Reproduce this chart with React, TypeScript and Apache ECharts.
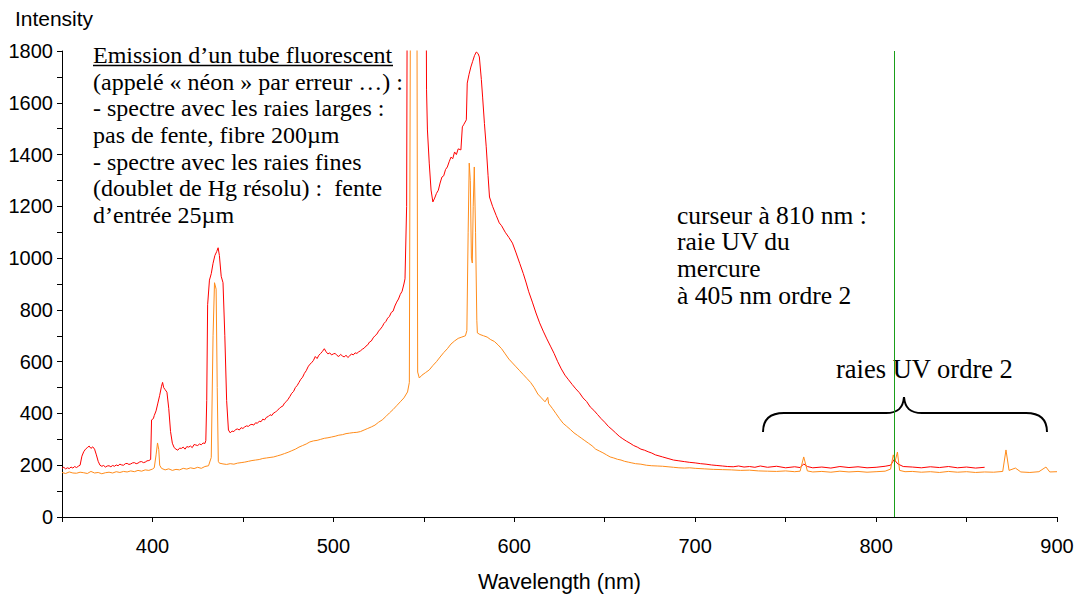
import React, { useEffect, useRef } from "react";
import * as echarts from "echarts";

// Wavelength (nm) / intensity pairs
const redSpectrum: [number, number][] = [
  [350, 188], [351, 192], [352, 186], [353, 190], [354, 187], [355, 193], [356, 189], [357, 195], [358, 191], [359, 196],
  [360, 200], [361, 235], [362, 252], [363, 262], [364, 268], [365, 274], [366, 265], [367, 271], [368, 262], [369, 240],
  [370, 215], [371, 200], [372, 196], [373, 199], [374, 193], [375, 197], [376, 198], [377, 194], [378, 199], [379, 196],
  [380, 201], [381, 198], [382, 204], [383, 201], [384, 200], [385, 206], [386, 207], [387, 203], [388, 205], [389, 209],
  [390, 210], [391, 206], [392, 208], [393, 213], [394, 214], [395, 210], [396, 212], [397, 217], [398, 218], [399, 222],
  [399.5, 375], [400.5, 380], [401, 392], [402, 410], [403, 440], [404, 470], [405, 505], [405.6, 520], [406.2, 500], [407, 492],
  [408, 482], [409, 420], [410, 330], [411, 285], [412, 268], [413, 262], [414, 258], [415, 266], [416, 265], [417, 270],
  [418, 262], [419, 272], [420, 270], [421, 274], [422, 268], [423, 280], [424, 278], [425, 276], [426, 282], [427, 279],
  [428, 286], [429, 284], [429.5, 295], [430, 450], [430.5, 820], [431.5, 915], [432.5, 940], [433.5, 980], [434.5, 1010], [435.5, 1025],
  [436.3, 1040], [437, 1010], [438, 930], [439, 905], [440, 700], [441, 450], [442, 336], [443, 325], [444, 332], [445, 330],
  [446, 338], [447, 340], [448, 336], [449, 345], [450, 342], [451, 348], [452, 352], [453, 350], [454, 356], [455, 358],
  [456, 355], [457, 364], [458, 362], [459, 370], [460, 368], [461, 378], [462, 375], [463, 385], [464, 388], [465, 395],
  [466, 392], [467, 402], [468, 405], [469, 412], [470, 418], [471, 425], [472, 428], [473, 440], [474, 446], [475, 455],
  [476, 466], [477, 478], [478, 485], [479, 500], [480, 508], [481, 520], [482, 532], [483, 540], [484, 555], [485, 565],
  [486, 580], [487, 590], [488, 596], [489, 605], [490, 620], [491, 612], [492, 625], [493, 632], [494, 640], [495, 650],
  [496, 638], [497, 630], [498, 634], [499, 626], [500, 630], [501, 632], [502, 624], [503, 620], [504, 628], [505, 622],
  [506, 618], [507, 625], [508, 616], [509, 622], [510, 630], [511, 626], [512, 634], [513, 632], [514, 638], [515, 642],
  [516, 648], [517, 652], [518, 660], [519, 665], [520, 676], [521, 680], [522, 692], [523, 700], [524, 706], [525, 718],
  [526, 726], [527, 735], [528, 748], [529, 755], [530, 768], [531, 775], [532, 790], [533, 795], [534, 815], [535, 830],
  [536, 842], [537, 860], [538, 872], [539, 900], [539.6, 920], [540.5, 1200], [541.2, 3000], [545, 4000], [549, 4000], [551, 2600],
  [551.5, 1650], [552, 1495], [553, 1367], [554, 1263], [555, 1217], [556, 1232], [557, 1250], [558, 1262], [559, 1290], [560, 1313],
  [561, 1318], [562, 1342], [563, 1352], [564, 1372], [565, 1390], [566, 1384], [567, 1410], [568, 1400], [569, 1422], [570.5, 1418],
  [571.3, 1507], [572, 1515], [573.5, 1534], [574, 1676], [575, 1710], [576, 1738], [577, 1760], [578, 1782], [579, 1796], [580, 1790],
  [580.7, 1777], [581.8, 1690], [582.5, 1622], [583.5, 1520], [584.5, 1430], [585.5, 1320], [586.3, 1236], [588, 1200], [590, 1165], [591.7, 1136],
  [593, 1125], [595, 1100], [597, 1080], [599, 1058], [601, 1020], [603, 980], [605, 940], [606.6, 904], [608, 870], [610, 830],
  [612, 788], [614, 750], [616, 718], [618, 688], [620, 660], [622, 632], [624, 600], [626, 572], [628, 548], [630, 530],
  [632, 512], [634, 495], [636, 480], [638, 460], [640, 446], [642, 425], [644, 412], [646, 396], [648, 380], [650, 366],
  [652, 350], [654, 338], [656, 325], [658, 312], [660, 302], [662, 293], [664, 285], [666, 276], [668, 270], [670, 262],
  [672, 258], [674, 252], [676, 247], [678, 240], [680, 236], [682, 232], [685, 226], [688, 220], [691, 217], [694, 214],
  [697, 211], [700, 209], [703, 206], [706, 204], [709, 201], [712, 199], [715, 197], [718, 195], [721, 194], [724, 197],
  [727, 193], [730, 195], [733, 192], [736, 197], [740, 192], [745, 196], [750, 190], [755, 194], [758, 191], [760, 205],
  [762, 195], [765, 190], [770, 193], [775, 189], [780, 195], [785, 191], [790, 194], [795, 190], [800, 192], [805, 196],
  [808, 200], [810, 222], [812, 205], [815, 195], [820, 193], [825, 190], [830, 194], [835, 191], [840, 195], [845, 190],
  [850, 193], [855, 189], [860, 192],
];

const orangeSpectrum: [number, number][] = [
  [350, 172], [352, 168], [354, 174], [356, 170], [358, 169], [360, 173], [362, 171], [364, 168], [366, 176], [368, 170],
  [370, 172], [372, 167], [374, 171], [376, 173], [378, 170], [380, 175], [382, 172], [384, 176], [386, 174], [388, 178],
  [390, 175], [392, 180], [394, 177], [396, 182], [398, 180], [400, 185], [401, 190], [402, 240], [402.8, 286], [403.5, 260],
  [404, 200], [405, 188], [407, 182], [409, 186], [411, 180], [413, 184], [415, 182], [417, 188], [419, 185], [421, 190],
  [423, 187], [425, 192], [427, 188], [429, 195], [431, 198], [432.5, 230], [433.5, 700], [434.3, 905], [435.2, 880], [435.8, 500],
  [436.4, 215], [437, 208], [439, 205], [441, 203], [443, 206], [445, 204], [447, 208], [449, 210], [451, 212], [453, 215],
  [455, 218], [457, 220], [459, 222], [461, 226], [463, 228], [465, 230], [467, 232], [469, 236], [471, 240], [473, 245],
  [475, 250], [477, 256], [479, 262], [481, 270], [483, 276], [485, 282], [487, 290], [489, 294], [491, 296], [493, 300],
  [495, 304], [497, 306], [499, 309], [501, 312], [503, 316], [505, 318], [507, 322], [509, 324], [511, 326], [513, 327],
  [515, 330], [517, 336], [519, 342], [521, 348], [523, 355], [525, 366], [527, 375], [529, 388], [531, 402], [533, 415],
  [535, 430], [537, 445], [539, 460], [541, 483], [542, 520], [542.6, 2000], [543.8, 4000], [545.6, 4000], [546.2, 2000], [546.6, 560],
  [547.5, 537], [549, 548], [551, 558], [553, 568], [555, 585], [557, 600], [559, 618], [561, 635], [563, 650], [565, 668],
  [567, 680], [569, 690], [571, 695], [573, 700], [573.8, 720], [574.5, 1100], [575.1, 1367], [575.7, 1300], [576.3, 1000], [576.8, 981],
  [577.3, 1200], [577.9, 1352], [578.6, 1100], [579.3, 760], [579.6, 711], [581, 705], [583, 700], [585, 695], [587, 685], [589, 678],
  [591, 665], [593, 650], [595, 630], [597, 610], [599, 595], [601, 580], [603, 565], [605, 550], [607, 535], [609, 520],
  [611, 500], [613, 475], [615, 460], [617, 445], [618.5, 462], [619, 438], [621, 420], [623, 400], [625, 380], [627, 362],
  [629, 350], [631, 338], [633, 325], [635, 315], [637, 305], [639, 295], [641, 285], [643, 275], [645, 262], [647, 255],
  [649, 248], [651, 240], [653, 232], [655, 228], [657, 223], [659, 220], [661, 215], [663, 212], [665, 209], [667, 206],
  [670, 204], [673, 200], [676, 198], [679, 197], [682, 196], [685, 194], [688, 192], [691, 190], [694, 189], [697, 190],
  [700, 188], [705, 186], [710, 184], [715, 183], [720, 182], [725, 180], [730, 181], [735, 178], [740, 177], [745, 176],
  [750, 178], [755, 175], [758, 177], [760, 232], [762, 178], [765, 174], [770, 176], [775, 173], [780, 177], [785, 174],
  [790, 176], [795, 173], [800, 175], [805, 177], [808, 185], [809.5, 240], [810.5, 215], [811.8, 251], [813, 180], [816, 175],
  [820, 176], [825, 173], [830, 175], [835, 172], [840, 176], [845, 173], [850, 175], [855, 172], [860, 174], [865, 173],
  [870, 176], [871.8, 259], [873.5, 180], [877, 189], [880, 174], [885, 172], [890, 175], [893.9, 193], [896, 174], [900, 175],
];

const cursorNm = 810;
const xLabelValues = [400, 500, 600, 700, 800, 900];

const leftNote = [
  "Emission d\u2019un tube fluorescent",
  "(appel\u00e9 \u00ab n\u00e9on \u00bb par erreur \u2026) :",
  "- spectre avec les raies larges :",
  "pas de fente, fibre 200\u00b5m",
  "- spectre avec les raies fines",
  "(doublet de Hg r\u00e9solu) :  fente",
  "d\u2019entr\u00e9e 25\u00b5m",
];
const cursorNote = ["curseur \u00e0 810 nm :", "raie UV du", "mercure", "\u00e0 405 nm ordre 2"];
const uvNote = "raies UV ordre 2";

echarts.graphic.registerShape(
  "brace",
  echarts.graphic.extendPath(
    "M763 432 C763 419 770 413 784 413 L886 413 C898 413 903 408 904 397 C905 408 910 413 922 413 L1026 413 C1040 413 1047 419 1047 432",
    {}
  )
);

const SERIF = "'Liberation Serif', 'Times New Roman', serif";
const SANS = "'Liberation Sans', Arial, sans-serif";

export default function App() {
  const ref = useRef<HTMLDivElement>(null);
  useEffect(() => {
    document.body.style.margin = "0";
    if (!ref.current) return;
    const chart = echarts.init(ref.current, null, { renderer: "svg" });
    const leftLH = 26.7;
    const curLH = 26.9;
    const graphics: any[] = [
      {
        type: "text",
        x: 93,
        y: 55 - leftLH / 2,
        style: {
          text: leftNote.join("\n"),
          font: `24px ${SERIF}`,
          lineHeight: leftLH,
          fill: "#000",
          verticalAlign: "top",
          align: "left",
        },
      },
      { type: "line", shape: { x1: 93, y1: 65.5, x2: 393, y2: 65.5 }, style: { stroke: "#000", lineWidth: 1.5 } },
      {
        type: "text",
        x: 677,
        y: 215 - curLH / 2,
        style: {
          text: cursorNote.join("\n"),
          font: `25.5px ${SERIF}`,
          lineHeight: curLH,
          fill: "#000",
          verticalAlign: "top",
          align: "left",
        },
      },
      {
        type: "text",
        x: 836,
        y: 369,
        style: { text: uvNote, font: `26.5px ${SERIF}`, fill: "#000", verticalAlign: "middle", align: "left" },
      },
      { type: "brace", x: 0, y: 0, style: { stroke: "#000", fill: "none", lineWidth: 2 } },
    ];

    chart.setOption({
      animation: false,
      backgroundColor: "#fff",
      grid: { left: 62, right: 21, top: 51, bottom: 77, outerBoundsMode: "none", containLabel: false },
      xAxis: {
        type: "value",
        min: 350,
        max: 900,
        interval: 50,
        name: "Wavelength (nm)",
        nameLocation: "middle",
        nameGap: 54,
        nameTextStyle: { fontFamily: SANS, fontSize: 21.5, color: "#000" },
        axisLine: { show: true, onZero: false, lineStyle: { color: "#000", width: 1 } },
        axisTick: { show: true, length: 5, lineStyle: { color: "#000" } },
        axisLabel: {
          fontFamily: SANS,
          fontSize: 20,
          color: "#000",
          margin: 19,
          formatter: (v: number) => (xLabelValues.includes(v) ? String(v) : ""),
        },
        splitLine: { show: false },
      },
      yAxis: {
        type: "value",
        min: 0,
        max: 1800,
        interval: 100,
        name: "Intensity",
        nameLocation: "end",
        nameGap: 22,
        nameTextStyle: { fontFamily: SANS, fontSize: 21, color: "#000", align: "center", padding: [0, 16, 0, 0] },
        axisLine: { show: true, lineStyle: { color: "#000", width: 1 } },
        axisTick: { show: true, length: 5, lineStyle: { color: "#000" } },
        axisLabel: {
          fontFamily: SANS,
          fontSize: 20,
          color: "#000",
          margin: 9,
          formatter: (v: number) => (v % 200 === 0 ? String(v) : ""),
        },
        splitLine: { show: false },
      },
      series: [
        {
          name: "raies larges",
          type: "line",
          data: redSpectrum,
          showSymbol: false,
          symbol: "none",
          clip: true,
          lineStyle: { color: "#ff0000", width: 1 },
          itemStyle: { color: "#ff0000" },
          z: 2,
        },
        {
          name: "raies fines",
          type: "line",
          data: orangeSpectrum,
          showSymbol: false,
          symbol: "none",
          clip: true,
          lineStyle: { color: "#ff8c1a", width: 1 },
          itemStyle: { color: "#ff8c1a" },
          z: 3,
          markLine: {
            silent: true,
            symbol: "none",
            label: { show: false },
            lineStyle: { color: "#1a9e1a", width: 1, type: "solid" },
            data: [{ xAxis: cursorNm }],
          },
        },
      ],
      graphic: graphics,
    });
    return () => chart.dispose();
  }, []);
  return <div ref={ref} style={{ width: 1078, height: 594 }} />;
}
